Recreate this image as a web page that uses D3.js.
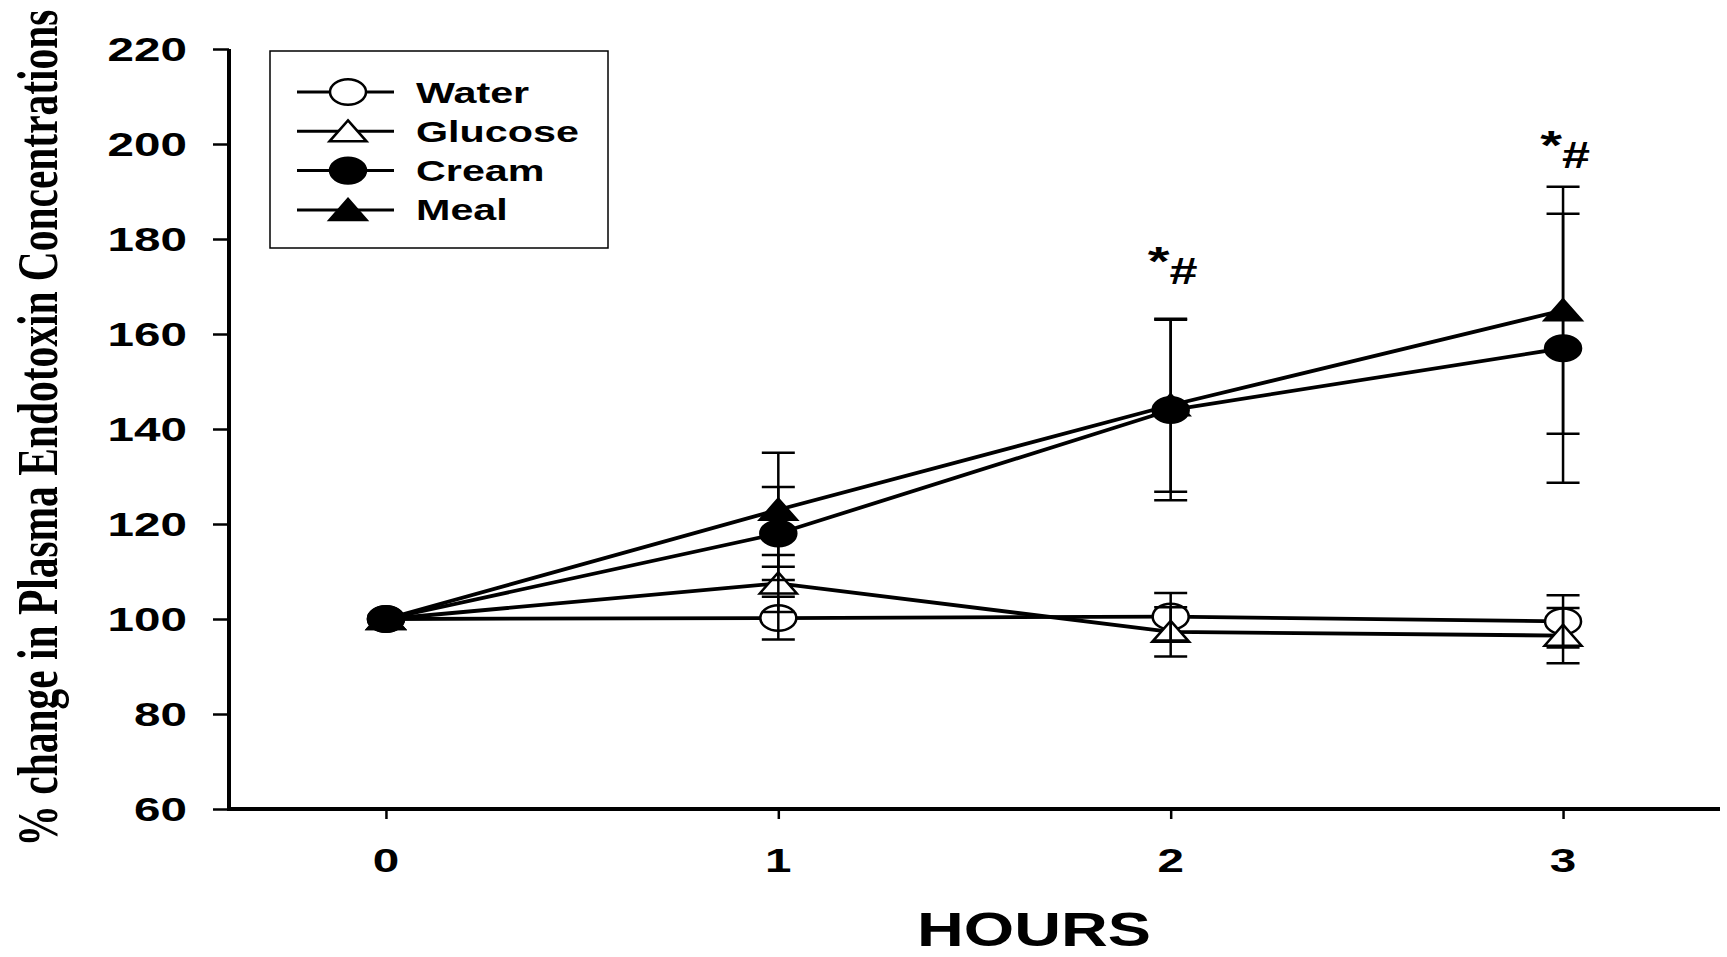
<!DOCTYPE html>
<html>
<head>
<meta charset="utf-8">
<script src="https://cdn.jsdelivr.net/npm/d3@7"></script>
<style>
  body { margin: 0; background: #fff; }
  svg { display: block; }
  text { fill: #000; }
</style>
</head>
<body>
<svg id="chart" width="1727" height="957"></svg>
<script>
// values (% of baseline, mean and SE)
var hours = [0, 1, 2, 3];
var seriesNames = ["Water", "Glucose", "Cream", "Meal"];
var water = [100, 100.2, 100.5, 99.5];
var waterErr = [0, 4.5, 5, 5.5];
var glucose = [100, 107.5, 97.3, 96.5];
var glucoseErr = [0, 6, 5.2, 5.8];
var cream = [100, 118, 144, 157];
var creamErr = [0, 9.8, 19, 28.3];
var meal = [100, 123, 145, 165];
var mealErr = [0, 12, 18.2, 26];
var yTicks = [60, 80, 100, 120, 140, 160, 180, 200, 220];
var xTicks = [0, 1, 2, 3];
// significance marks "*#"
var markHours = [2, 3];
var markLevels = [170.5, 195];

var series = [
  { name: seriesNames[0], values: water, err: waterErr, shape: "circle", filled: false },
  { name: seriesNames[1], values: glucose, err: glucoseErr, shape: "triangle", filled: false },
  { name: seriesNames[2], values: cream, err: creamErr, shape: "circle", filled: true },
  { name: seriesNames[3], values: meal, err: mealErr, shape: "triangle", filled: true }
];

var svg = d3.select("#chart");
var stretch = 1.4; // the figure is wider than tall, text looks pulled sideways

var x = d3.scaleLinear().domain([-0.4, 3.4]).range([229, 1720]);
var y = d3.scaleLinear().domain([60, 220]).range([809, 49]);

var sans = "Liberation Sans, Arial, sans-serif";

function wideText(g, px, py, str, size, anchor, sx) {
  return g.append("text")
    .attr("transform", "translate(" + px + "," + py + ") scale(" + (sx || stretch) + ",1)")
    .attr("text-anchor", anchor)
    .attr("font-family", sans)
    .attr("font-weight", "bold")
    .attr("font-size", size)
    .text(str);
}

function drawMarker(g, s, cx, cy) {
  var fill = s.filled ? "#000" : "#fff";
  if (s.shape == "circle") {
    g.append("ellipse")
      .attr("cx", cx).attr("cy", cy)
      .attr("rx", 18).attr("ry", 12.8)
      .attr("fill", fill)
      .attr("stroke", "#000")
      .attr("stroke-width", 2.5);
  } else {
    g.append("path")
      .attr("d", "M" + cx + "," + (cy - 11) + "L" + (cx + 18.5) + "," + (cy + 10) + "L" + (cx - 18.5) + "," + (cy + 10) + "Z")
      .attr("fill", fill)
      .attr("stroke", "#000")
      .attr("stroke-width", 2.5)
      .attr("stroke-linejoin", "miter");
  }
}

// axes
var yAxis = d3.axisLeft(y).tickValues(yTicks).tickSize(16).tickFormat("");
var gy = svg.append("g").attr("transform", "translate(" + x.range()[0] + ",0)").call(yAxis);
gy.select(".domain").attr("stroke-width", 4).attr("d", "M0," + y(220) + "V" + y(60));
gy.selectAll(".tick line").attr("stroke-width", 2.5);

var xAxis = d3.axisBottom(x).tickValues(xTicks).tickSize(10).tickFormat("");
var gx = svg.append("g").attr("transform", "translate(0," + y(60) + ")").call(xAxis);
gx.select(".domain").attr("stroke-width", 4).attr("d", "M" + (x.range()[0] - 2) + ",0H" + x.range()[1]);
gx.selectAll(".tick line").attr("stroke-width", 2.5).attr("y1", 2);

// tick labels
var labels = svg.append("g");
yTicks.forEach(function(t) {
  wideText(labels, 187, y(t) + 12, t, 34, "end");
});
xTicks.forEach(function(t) {
  wideText(labels, x(t), 872, t, 34, "middle");
});

// axis titles
wideText(svg, 1034, 946, "HOURS", 48, "middle", 1.35);

svg.append("text")
  .attr("transform", "translate(57,428) rotate(-90) scale(1," + stretch + ")")
  .attr("text-anchor", "middle")
  .attr("font-family", "Liberation Serif, Times New Roman, serif")
  .attr("font-weight", "bold")
  .attr("font-size", 40)
  .attr("textLength", 837)
  .attr("lengthAdjust", "spacingAndGlyphs")
  .text("% change in Plasma Endotoxin Concentrations");

// data lines
var line = d3.line()
  .x(function(d, i) { return x(hours[i]); })
  .y(function(d) { return y(d); });

var plot = svg.append("g");
series.forEach(function(s) {
  plot.append("path")
    .attr("d", line(s.values))
    .attr("fill", "none")
    .attr("stroke", "#000")
    .attr("stroke-width", 3.8);
});

// markers
series.forEach(function(s) {
  s.values.forEach(function(v, i) {
    drawMarker(plot, s, x(hours[i]), y(v));
  });
});

// error bars on top
series.forEach(function(s) {
  s.values.forEach(function(v, i) {
    if (!s.err[i]) return;
    var cx = x(hours[i]);
    var top = y(v + s.err[i]);
    var bot = y(v - s.err[i]);
    plot.append("line")
      .attr("x1", cx).attr("x2", cx)
      .attr("y1", top).attr("y2", bot)
      .attr("stroke", "#000").attr("stroke-width", 2.5);
    [top, bot].forEach(function(cy) {
      plot.append("line")
        .attr("x1", cx - 16.5).attr("x2", cx + 16.5)
        .attr("y1", cy).attr("y2", cy)
        .attr("stroke", "#000").attr("stroke-width", 2.5);
    });
  });
});

// significance marks
markHours.forEach(function(h, i) {
  var t = svg.append("text")
    .attr("transform", "translate(" + (x(h) + 2) + "," + y(markLevels[i]) + ") scale(" + stretch + ",1)")
    .attr("text-anchor", "middle")
    .attr("font-family", sans)
    .attr("font-weight", "bold")
    .attr("font-size", 36);
  t.append("tspan").attr("dy", -9).attr("font-size", 40).text("*");
  t.append("tspan").attr("dy", 9).text("#");
});

// legend
var legend = svg.append("g");
legend.append("rect")
  .attr("x", 270).attr("y", 51)
  .attr("width", 338).attr("height", 197)
  .attr("fill", "#fff")
  .attr("stroke", "#000")
  .attr("stroke-width", 1.5);

series.forEach(function(s, i) {
  var ly = 92 + i * 39.3;
  legend.append("line")
    .attr("x1", 297).attr("x2", 394)
    .attr("y1", ly).attr("y2", ly)
    .attr("stroke", "#000").attr("stroke-width", 3);
  drawMarker(legend, s, 348, ly);
  wideText(legend, 416, ly + 10.5, s.name, 29.5, "start");
});
</script>
</body>
</html>
